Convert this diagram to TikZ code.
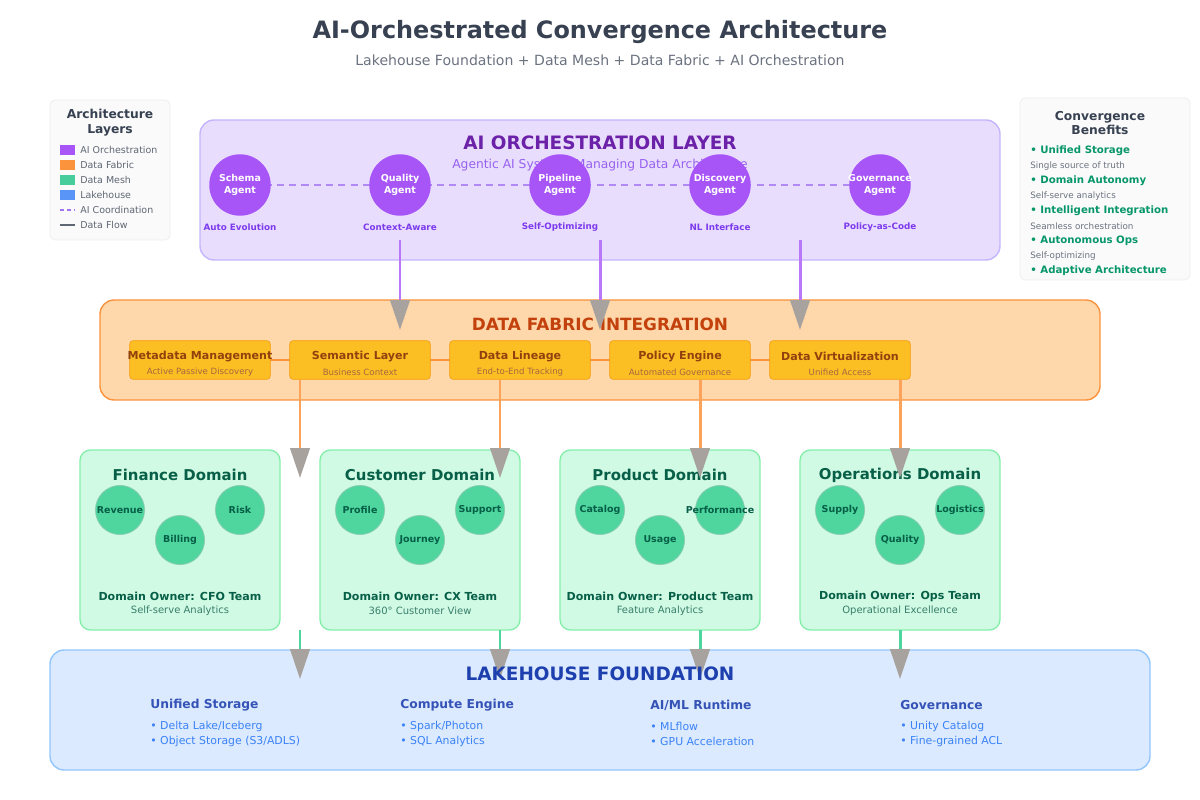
\documentclass[tikz,border=0pt]{standalone}
\usepackage{fontspec}
\setmainfont{DejaVu Sans}
\usetikzlibrary{arrows.meta,positioning}
\definecolor{aifill}{HTML}{E9DDFE}
\definecolor{aidraw}{HTML}{C4B5FD}
\definecolor{aidark}{HTML}{6B21A8}
\definecolor{aicirc}{HTML}{A855F7}
\definecolor{aitext}{HTML}{7C3AED}
\definecolor{fabfill}{HTML}{FED7AA}
\definecolor{fabdraw}{HTML}{FB923C}
\definecolor{fabdark}{HTML}{C2410C}
\definecolor{boxfill}{HTML}{FBBF24}
\definecolor{boxdraw}{HTML}{F59E0B}
\definecolor{boxtext}{HTML}{92400E}
\definecolor{meshfill}{HTML}{D1FAE5}
\definecolor{meshdraw}{HTML}{86EFAC}
\definecolor{meshcirc}{HTML}{4FD59E}
\definecolor{meshdark}{HTML}{065F46}
\definecolor{lakefill}{HTML}{DBEAFE}
\definecolor{lakedraw}{HTML}{93C5FD}
\definecolor{lakedark}{HTML}{1E40AF}
\definecolor{laketext}{HTML}{3B82F6}
\definecolor{titlegray}{HTML}{374151}
\definecolor{subgray}{HTML}{6B7280}
\definecolor{benefit}{HTML}{059669}
\definecolor{tipgray}{HTML}{A8A29E}
\tikzset{
  layer/.style={rounded corners=8pt,line width=0.8pt},
  agent/.style={circle,fill=aicirc,minimum size=35pt,inner sep=-6pt,align=center,
    text=white,font=\fontsize{5.4}{6.4}\selectfont\bfseries},
  tag/.style={font=\fontsize{5}{6}\selectfont\bfseries,text=aitext},
  fabbox/.style={rectangle,rounded corners=2pt,fill=boxfill,draw=boxdraw,
    minimum width=80pt,minimum height=22pt,inner sep=0pt},
  dom/.style={rounded corners=6pt,fill=meshfill,draw=meshdraw,line width=0.8pt},
  svc/.style={circle,fill=meshcirc,draw=meshcirc!80!black!60,minimum size=28pt,inner sep=-8pt,
    text=meshdark,font=\fontsize{5.4}{6}\selectfont\bfseries},
  lakeh/.style={anchor=west,inner sep=0pt,font=\fontsize{7}{8}\selectfont\bfseries,text=lakedark!90},
  lakei/.style={anchor=west,inner sep=0pt,font=\fontsize{6.2}{7}\selectfont,text=laketext},
  flow/.style={line width=1.7pt,-{Triangle[length=17pt,width=11pt,color=tipgray]}},
}
\begin{document}
\begin{tikzpicture}[x=0.02cm,y=-0.02cm]
  \useasboundingbox (0,0) rectangle (1200,800);
  % titles
  \node (title) at (600,32) {\fontsize{13.6}{16}\selectfont\bfseries\color{titlegray}AI-Orchestrated Convergence Architecture};
  \node (subtitle) at (600,60) {\fontsize{8}{10}\selectfont\color{subgray}Lakehouse Foundation + Data Mesh + Data Fabric + AI Orchestration};

  % layer backgrounds
  \draw [layer,fill=aifill,draw=aidraw] (200,120) rectangle (1000,260);
  \draw [layer,fill=fabfill,draw=fabdraw] (100,300) rectangle (1100,400);
  \draw [layer,fill=lakefill,draw=lakedraw] (50,650) rectangle (1150,770);

  % AI orchestration
  \node (aititle) at (600,143) {\fontsize{10.5}{12}\selectfont\bfseries\color{aidark}AI ORCHESTRATION LAYER};
  \node (aisub) at (600,165) {\fontsize{7}{8}\selectfont\color{aitext!80}Agentic AI Systems Managing Data Architecture};
  \draw [aitext!60,dashed,dash pattern=on 4pt off 3pt,line width=0.8pt] (240,185) -- (880,185);
  \node [agent] (schema) at (240,185) {Schema\\Agent};
  \node [agent] (quality) at (400,185) {Quality\\Agent};
  \node [agent] (pipeline) at (560,185) {Pipeline\\Agent};
  \node [agent] (discovery) at (720,185) {Discovery\\Agent};
  \node [agent] (governance) at (880,185) {Governance\\Agent};
  \node [tag] (schemat) at (240,227) {Auto Evolution};
  \node [tag] (qualityt) at (400,227) {Context-Aware};
  \node [tag] (pipelinet) at (560,227) {Self-Optimizing};
  \node [tag] (discoveryt) at (720,227) {NL Interface};
  \node [tag] (governancet) at (880,227) {Policy-as-Code};

  % data fabric
  \node (fabtitle) at (600,324) {\fontsize{9.6}{12}\selectfont\bfseries\color{fabdark}DATA FABRIC INTEGRATION};
  \draw [fabdraw,line width=1pt] (200,360) -- (840,360);
  \foreach \x/\n/\a/\b in {200/meta/Metadata Management/Active Passive Discovery,
      360/sem/Semantic Layer/Business Context,
      520/lin/Data Lineage/End-to-End Tracking,
      680/pol/Policy Engine/Automated Governance,
      840/virt/Data Virtualization/Unified Access} {
    \node [fabbox] (\n) at (\x,360) {};
    \node (\n a) at (\x,356) {\fontsize{6.3}{7.5}\selectfont\bfseries\color{boxtext}\a};
    \node (\n b) at (\x,372) {\fontsize{4.9}{6}\selectfont\color{boxtext!80}\b};
  }

  % AI -> fabric
  \foreach \x/\n in {400/a,600/b,800/c} {
    \coordinate (ai\n) at (\x,240);
    \coordinate (fab\n) at (\x,330);
    \draw [flow,aicirc!80] (ai\n) -- (fab\n);
  }

  % data mesh domains
  \foreach \x/\n/\t/\o/\s in {180/fin/Finance Domain/CFO Team/Self-serve Analytics,
      420/cus/Customer Domain/CX Team/360° Customer View,
      660/pro/Product Domain/Product Team/Feature Analytics,
      900/ops/Operations Domain/Ops Team/Operational Excellence} {
    \draw [dom] (\x-100,450) rectangle (\x+100,630);
    \node (\n title) at (\x,475) {\fontsize{8.5}{10}\selectfont\bfseries\color{meshdark}\t};
    \node (\n owner) at (\x,596) {\fontsize{6.3}{8}\selectfont\bfseries\color{meshdark}Domain Owner: \o};
    \node (\n sub) at (\x,611) {\fontsize{5.7}{7}\selectfont\color{meshdark!80}\s};
  }
  \node [svc] (revenue) at (120,510) {Revenue};
  \node [svc] (risk) at (240,510) {Risk};
  \node [svc] (billing) at (180,540) {Billing};
  \node [svc] (profile) at (360,510) {Profile};
  \node [svc] (support) at (480,510) {Support};
  \node [svc] (journey) at (420,540) {Journey};
  \node [svc] (catalog) at (600,510) {Catalog};
  \node [svc] (performance) at (720,510) {Performance};
  \node [svc] (usage) at (660,540) {Usage};
  \node [svc] (supply) at (840,510) {Supply};
  \node [svc] (logistics) at (960,510) {Logistics};
  \node [svc] (qualitysvc) at (900,540) {Quality};

  % fabric -> mesh, mesh -> lakehouse
  \foreach \x/\n in {300/a,500/b,700/c,900/d} {
    \coordinate (fo\n) at (\x,380);
    \coordinate (mi\n) at (\x,478);
    \coordinate (mo\n) at (\x,630);
    \coordinate (li\n) at (\x,679);
    \draw [flow,fabdraw!85] (fo\n) -- (mi\n);
    \draw [flow,meshcirc] (mo\n) -- (li\n);
  }

  % lakehouse
  \node (laketitle) at (600,674) {\fontsize{10.5}{12}\selectfont\bfseries\color{lakedark}LAKEHOUSE FOUNDATION};
  \node [lakeh] (sto) at (150,705) {Unified Storage};
  \node [lakei] (stoa) at (150,726) {• Delta Lake/Iceberg};
  \node [lakei] (stob) at (150,741) {• Object Storage (S3/ADLS)};
  \node [lakeh] (comp) at (400,705) {Compute Engine};
  \node [lakei] (compa) at (400,726) {• Spark/Photon};
  \node [lakei] (compb) at (400,741) {• SQL Analytics};
  \node [lakeh] (ml) at (650,705) {AI/ML Runtime};
  \node [lakei] (mla) at (650,726) {• MLflow};
  \node [lakei] (mlb) at (650,741) {• GPU Acceleration};
  \node [lakeh] (gov) at (900,705) {Governance};
  \node [lakei] (gova) at (900,726) {• Unity Catalog};
  \node [lakei] (govb) at (900,741) {• Fine-grained ACL};

  % legend
  \draw [rounded corners=3pt,fill=gray!4,draw=gray!15] (50,100) rectangle (170,240);
  \node [align=center,font=\fontsize{7}{8.5}\selectfont\bfseries,text=titlegray] (legtitle) at (110,123) {Architecture\\Layers};
  \foreach \y/\c/\t in {150/aicirc/AI Orchestration,165/fabdraw/Data Fabric,180/meshcirc!90!teal/Data Mesh,195/laketext!85/Lakehouse} {
    \fill [\c] (60,\y-5) rectangle (75,\y+5);
    \node [anchor=west,inner sep=0pt] at (80,\y) {\fontsize{5.4}{6}\selectfont\color{titlegray!80}\t};
  }
  \draw [aitext!70,dashed,dash pattern=on 2.5pt off 1.5pt,line width=0.8pt] (60,210) -- (75,210);
  \node [anchor=west,inner sep=0pt] at (80,210) {\fontsize{5.4}{6}\selectfont\color{titlegray!80}AI Coordination};
  \draw [titlegray!80,line width=0.8pt] (60,225) -- (75,225);
  \node [anchor=west,inner sep=0pt] at (80,225) {\fontsize{5.4}{6}\selectfont\color{titlegray!80}Data Flow};

  % benefits
  \draw [rounded corners=3pt,fill=gray!4,draw=gray!15] (1020,98) rectangle (1190,280);
  \node [align=center,font=\fontsize{7}{8.5}\selectfont\bfseries,text=titlegray] (bentitle) at (1100,123) {Convergence\\Benefits};
  \foreach \y/\h/\s in {151/Unified Storage/Single source of truth,181/Domain Autonomy/Self-serve analytics,
      211/Intelligent Integration/Seamless orchestration,241/Autonomous Ops/Self-optimizing} {
    \node [anchor=west,inner sep=0pt] at (1030,\y) {\fontsize{5.8}{7}\selectfont\bfseries\color{benefit}• \h};
    \node [anchor=west,inner sep=0pt] at (1030,\y+15) {\fontsize{5}{6}\selectfont\color{subgray}\s};
  }
  \node [anchor=west,inner sep=0pt] at (1030,271) {\fontsize{5.8}{7}\selectfont\bfseries\color{benefit}• Adaptive Architecture};
\end{tikzpicture}
\end{document}
